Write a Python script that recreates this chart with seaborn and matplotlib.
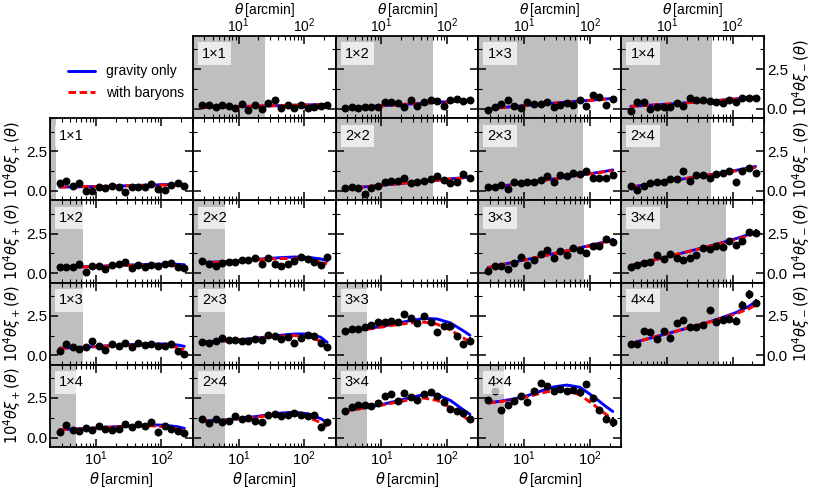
import numpy as np
import matplotlib
matplotlib.use("Agg")
import matplotlib.pyplot as plt
from matplotlib.lines import Line2D
from matplotlib.ticker import MultipleLocator, AutoMinorLocator, LogLocator, NullFormatter
import seaborn as sns

# ── data ─────────────────────────────────────────────────
theta = [2.80, 3.53, 4.44, 5.59, 7.04, 8.86, 11.2, 14.0, 17.7, 22.3,
         28.0, 35.3, 44.4, 55.9, 70.4, 88.6, 112, 140, 177, 223]
theta_model = [2.80, 4.44, 7.04, 11.2, 17.7, 28.0, 44.4, 70.4, 112, 177, 223]

pairs = ["1×1", "1×2", "1×3", "1×4", "2×2", "2×3", "2×4", "3×3", "3×4", "4×4"]

# xi_plus measurements
xip_obs = {
    "1×1": [0.5, 0.6, 0.3, 0.5, 0.0, 0.02, 0.25, 0.2, 0.28, 0.25, -0.08, 0.25, 0.25, 0.25, 0.45, 0.1, 0.08, 0.4, 0.5, 0.3],
    "1×2": [0.4, 0.4, 0.4, 0.55, 0.05, 0.45, 0.45, 0.25, 0.5, 0.55, 0.7, 0.35, 0.5, 0.4, 0.5, 0.45, 0.6, 0.65, 0.4, 0.3],
    "1×3": [0.25, 0.7, 0.55, 0.4, 0.5, 0.9, 0.6, 0.35, 0.7, 0.6, 0.75, 0.55, 0.8, 0.65, 0.7, 0.6, 0.6, 0.7, 0.25, 0.1],
    "1×4": [0.35, 0.8, 0.5, 0.4, 0.6, 0.45, 0.75, 0.55, 0.5, 0.55, 0.85, 0.65, 0.85, 0.75, 1.0, 0.35, 0.75, 0.55, 0.4, 0.3],
    "2×2": [0.75, 0.6, 0.45, 0.65, 0.7, 0.7, 0.85, 0.85, 0.95, 0.6, 0.95, 0.55, 0.45, 0.55, 0.75, 1.05, 0.9, 0.7, 0.5, 1.0],
    "2×3": [0.85, 0.75, 0.9, 1.1, 0.95, 0.95, 0.9, 0.9, 1.05, 1.0, 1.3, 1.2, 1.05, 1.15, 0.8, 1.1, 1.3, 1.2, 0.75, 0.5],
    "2×4": [1.15, 0.9, 1.15, 1.0, 1.05, 1.35, 1.2, 1.25, 1.05, 1.0, 1.4, 1.5, 1.35, 1.45, 1.55, 1.45, 1.35, 1.45, 0.65, 1.0],
    "3×3": [1.52, 1.67, 1.67, 1.77, 1.92, 2.09, 2.09, 2.16, 2.09, 2.6, 2.37, 2.03, 2.48, 2.09, 1.5, 1.88, 1.84, 1.24, 0.71, 0.92],
    "3×4": [1.69, 1.95, 2.07, 2.07, 2.0, 2.18, 2.61, 2.76, 2.33, 2.8, 2.54, 2.37, 2.76, 2.86, 2.65, 2.26, 1.79, 1.65, 1.54, 1.2],
    "4×4": [2.39, 2.97, 1.75, 2.07, 2.33, 2.65, 2.22, 2.93, 3.46, 3.29, 2.93, 3.08, 2.93, 3.03, 2.86, 3.4, 2.48, 1.73, 1.15, 0.98],
}
xip_err = {
    "1×1": [0.10, 0.09, 0.08, 0.08, 0.07, 0.07, 0.07, 0.06, 0.06, 0.06, 0.06, 0.06, 0.06, 0.06, 0.06, 0.06, 0.06, 0.07, 0.07, 0.08],
    "1×2": [0.08, 0.08, 0.07, 0.07, 0.07, 0.06, 0.06, 0.06, 0.06, 0.06, 0.06, 0.06, 0.06, 0.06, 0.06, 0.07, 0.07, 0.07, 0.08, 0.09],
    "1×3": [0.08, 0.08, 0.07, 0.07, 0.07, 0.07, 0.06, 0.06, 0.06, 0.06, 0.06, 0.06, 0.06, 0.07, 0.07, 0.07, 0.08, 0.08, 0.10, 0.11],
    "1×4": [0.09, 0.08, 0.08, 0.07, 0.07, 0.07, 0.07, 0.07, 0.07, 0.07, 0.07, 0.07, 0.07, 0.07, 0.08, 0.08, 0.09, 0.10, 0.11, 0.12],
    "2×2": [0.09, 0.09, 0.08, 0.08, 0.08, 0.08, 0.08, 0.08, 0.08, 0.08, 0.08, 0.08, 0.08, 0.09, 0.09, 0.10, 0.11, 0.12, 0.13, 0.15],
    "2×3": [0.08, 0.08, 0.08, 0.08, 0.08, 0.08, 0.08, 0.08, 0.08, 0.08, 0.08, 0.08, 0.09, 0.09, 0.10, 0.11, 0.12, 0.13, 0.15, 0.17],
    "2×4": [0.09, 0.09, 0.09, 0.08, 0.08, 0.08, 0.08, 0.08, 0.08, 0.08, 0.08, 0.09, 0.09, 0.10, 0.11, 0.12, 0.13, 0.15, 0.17, 0.19],
    "3×3": [0.10, 0.10, 0.10, 0.10, 0.10, 0.10, 0.10, 0.10, 0.10, 0.11, 0.11, 0.12, 0.12, 0.13, 0.14, 0.15, 0.17, 0.19, 0.21, 0.24],
    "3×4": [0.10, 0.10, 0.10, 0.10, 0.10, 0.10, 0.10, 0.10, 0.10, 0.11, 0.11, 0.12, 0.12, 0.13, 0.14, 0.15, 0.17, 0.19, 0.21, 0.24],
    "4×4": [0.15, 0.15, 0.14, 0.13, 0.12, 0.12, 0.13, 0.13, 0.14, 0.14, 0.14, 0.15, 0.15, 0.16, 0.17, 0.19, 0.21, 0.23, 0.26, 0.29],
}
xip_dmo = {
    "1×1": [0.25, 0.25, 0.27, 0.28, 0.30, 0.32, 0.35, 0.37, 0.40, 0.39, 0.37],
    "1×2": [0.35, 0.37, 0.40, 0.43, 0.47, 0.50, 0.53, 0.56, 0.57, 0.56, 0.53],
    "1×3": [0.45, 0.48, 0.52, 0.57, 0.62, 0.66, 0.70, 0.72, 0.72, 0.65, 0.57],
    "1×4": [0.50, 0.53, 0.57, 0.62, 0.67, 0.72, 0.77, 0.80, 0.78, 0.68, 0.58],
    "2×2": [0.68, 0.70, 0.74, 0.80, 0.86, 0.93, 0.98, 1.02, 1.00, 0.90, 0.78],
    "2×3": [0.85, 0.88, 0.93, 1.00, 1.08, 1.17, 1.27, 1.35, 1.35, 1.15, 0.82],
    "2×4": [1.05, 1.08, 1.13, 1.22, 1.32, 1.43, 1.55, 1.60, 1.50, 1.20, 0.95],
    "3×3": [1.50, 1.60, 1.72, 1.87, 2.03, 2.20, 2.33, 2.30, 2.05, 1.55, 1.27],
    "3×4": [1.70, 1.82, 1.96, 2.13, 2.32, 2.53, 2.72, 2.70, 2.35, 1.75, 1.47],
    "4×4": [2.20, 2.30, 2.45, 2.65, 2.93, 3.20, 3.32, 3.18, 2.60, 1.95, 1.65],
}
xip_bar = {
    "1×1": [0.25, 0.25, 0.27, 0.28, 0.30, 0.32, 0.34, 0.36, 0.37, 0.34, 0.31],
    "1×2": [0.34, 0.36, 0.39, 0.42, 0.45, 0.48, 0.50, 0.52, 0.50, 0.45, 0.42],
    "1×3": [0.44, 0.47, 0.51, 0.55, 0.60, 0.63, 0.66, 0.66, 0.62, 0.50, 0.38],
    "1×4": [0.49, 0.52, 0.56, 0.61, 0.65, 0.70, 0.73, 0.74, 0.68, 0.55, 0.42],
    "2×2": [0.67, 0.69, 0.72, 0.78, 0.83, 0.88, 0.92, 0.92, 0.85, 0.70, 0.60],
    "2×3": [0.84, 0.86, 0.91, 0.97, 1.05, 1.13, 1.20, 1.25, 1.18, 0.90, 0.50],
    "2×4": [1.04, 1.06, 1.11, 1.19, 1.28, 1.38, 1.47, 1.48, 1.30, 0.95, 0.70],
    "3×3": [1.49, 1.58, 1.69, 1.82, 1.95, 2.05, 2.10, 1.97, 1.60, 1.10, 0.85],
    "3×4": [1.69, 1.80, 1.93, 2.08, 2.25, 2.40, 2.50, 2.35, 1.90, 1.35, 1.05],
    "4×4": [2.18, 2.27, 2.40, 2.58, 2.80, 2.97, 2.95, 2.70, 2.10, 1.45, 1.15],
}

# xi_minus measurements
xim_obs = {
    "1×1": [0.26, 0.26, 0.11, 0.26, 0.19, 0.04, 0.30, -0.06, 0.21, 0.0, 0.36, 0.53, 0.04, 0.26, 0.04, 0.21, 0.04, 0.09, 0.19, 0.26],
    "1×2": [0.04, 0.11, 0.04, 0.09, 0.11, 0.11, 0.41, 0.41, 0.33, 0.11, 0.54, 0.20, 0.41, 0.54, 0.48, 0.20, 0.54, 0.59, 0.48, 0.52],
    "1×3": [-0.07, 0.09, 0.30, 0.54, 0.20, 0.04, 0.41, 0.30, 0.30, 0.41, 0.11, 0.26, 0.37, 0.26, 0.54, 0.20, 0.85, 0.76, 0.26, 0.63],
    "1×4": [-0.13, 0.41, 0.41, -0.02, 0.09, 0.11, 0.11, 0.37, 0.20, 0.70, 0.54, 0.52, 0.48, 0.41, 0.37, 0.52, 0.43, 0.65, 0.65, 0.70],
    "2×2": [0.17, 0.23, 0.17, -0.19, 0.17, 0.32, 0.59, 0.64, 0.64, 0.80, 0.53, 0.55, 0.64, 0.74, 0.97, 0.70, 0.53, 0.59, 1.06, 0.80],
    "2×3": [0.23, 0.23, 0.38, 0.13, 0.59, 0.53, 0.59, 0.59, 0.66, 0.97, 0.59, 1.02, 0.95, 1.12, 1.08, 1.23, 0.80, 0.80, 0.80, 1.02],
    "2×4": [0.34, 0.06, 0.34, 0.49, 0.55, 0.55, 0.76, 0.76, 1.23, 0.64, 1.02, 1.02, 0.80, 1.06, 1.12, 1.23, 0.55, 1.29, 1.45, 1.15],
    "3×3": [0.13, 0.46, 0.42, 0.24, 0.61, 1.05, 0.53, 0.86, 1.18, 1.45, 0.96, 1.38, 1.16, 1.62, 1.45, 1.29, 1.73, 1.71, 2.15, 2.00],
    "3×4": [0.39, 0.53, 0.64, 0.68, 1.16, 0.90, 1.23, 0.96, 0.86, 0.96, 1.12, 1.62, 1.51, 1.71, 1.67, 2.06, 1.78, 2.04, 2.59, 2.54],
    "4×4": [0.70, 0.70, 1.56, 1.45, 1.03, 1.52, 1.07, 2.05, 2.26, 1.77, 1.77, 1.92, 2.84, 2.09, 2.26, 2.31, 2.20, 3.20, 3.85, 3.33],
}
xim_err = {
    "1×1": [0.06, 0.06, 0.06, 0.06, 0.06, 0.06, 0.06, 0.06, 0.06, 0.06, 0.06, 0.06, 0.06, 0.06, 0.06, 0.06, 0.06, 0.06, 0.07, 0.07],
    "1×2": [0.06, 0.06, 0.06, 0.06, 0.06, 0.06, 0.06, 0.06, 0.06, 0.06, 0.06, 0.06, 0.06, 0.06, 0.06, 0.06, 0.07, 0.07, 0.07, 0.08],
    "1×3": [0.07, 0.07, 0.07, 0.07, 0.07, 0.07, 0.07, 0.07, 0.07, 0.07, 0.07, 0.07, 0.07, 0.07, 0.07, 0.08, 0.08, 0.09, 0.10, 0.10],
    "1×4": [0.07, 0.07, 0.07, 0.07, 0.07, 0.07, 0.07, 0.07, 0.07, 0.07, 0.07, 0.07, 0.07, 0.07, 0.08, 0.08, 0.09, 0.10, 0.11, 0.11],
    "2×2": [0.08, 0.08, 0.08, 0.08, 0.08, 0.08, 0.08, 0.08, 0.08, 0.08, 0.08, 0.08, 0.08, 0.08, 0.09, 0.10, 0.11, 0.12, 0.13, 0.14],
    "2×3": [0.08, 0.08, 0.08, 0.08, 0.08, 0.08, 0.08, 0.08, 0.08, 0.08, 0.08, 0.08, 0.09, 0.09, 0.10, 0.11, 0.12, 0.14, 0.15, 0.17],
    "2×4": [0.09, 0.09, 0.09, 0.09, 0.09, 0.09, 0.09, 0.09, 0.09, 0.09, 0.09, 0.09, 0.10, 0.10, 0.11, 0.12, 0.14, 0.16, 0.18, 0.20],
    "3×3": [0.10, 0.10, 0.10, 0.10, 0.10, 0.10, 0.10, 0.10, 0.11, 0.11, 0.11, 0.12, 0.12, 0.13, 0.14, 0.15, 0.16, 0.18, 0.20, 0.22],
    "3×4": [0.10, 0.10, 0.10, 0.10, 0.10, 0.10, 0.10, 0.10, 0.11, 0.11, 0.11, 0.12, 0.12, 0.13, 0.14, 0.15, 0.16, 0.18, 0.20, 0.22],
    "4×4": [0.15, 0.15, 0.15, 0.15, 0.15, 0.15, 0.15, 0.16, 0.17, 0.17, 0.17, 0.17, 0.18, 0.20, 0.20, 0.22, 0.24, 0.26, 0.30, 0.25],
}
xim_dmo = {
    "1×1": [0.08, 0.10, 0.12, 0.14, 0.16, 0.18, 0.20, 0.22, 0.24, 0.26, 0.27],
    "1×2": [0.05, 0.10, 0.15, 0.20, 0.25, 0.30, 0.35, 0.40, 0.45, 0.50, 0.53],
    "1×3": [0.00, 0.07, 0.14, 0.21, 0.28, 0.35, 0.42, 0.49, 0.55, 0.62, 0.65],
    "1×4": [0.15, 0.20, 0.25, 0.30, 0.36, 0.42, 0.48, 0.55, 0.62, 0.70, 0.75],
    "2×2": [0.15, 0.22, 0.30, 0.38, 0.45, 0.53, 0.60, 0.68, 0.76, 0.84, 0.90],
    "2×3": [0.20, 0.30, 0.42, 0.53, 0.65, 0.76, 0.88, 1.00, 1.12, 1.25, 1.33],
    "2×4": [0.25, 0.37, 0.50, 0.63, 0.76, 0.89, 1.02, 1.16, 1.30, 1.45, 1.55],
    "3×3": [0.35, 0.52, 0.70, 0.87, 1.05, 1.23, 1.41, 1.60, 1.80, 2.00, 2.12],
    "3×4": [0.48, 0.68, 0.88, 1.08, 1.29, 1.50, 1.71, 1.94, 2.18, 2.45, 2.62],
    "4×4": [0.75, 0.98, 1.20, 1.42, 1.65, 1.88, 2.12, 2.40, 2.70, 3.10, 3.40],
}
xim_bar = {
    "1×1": [0.08, 0.10, 0.12, 0.14, 0.16, 0.18, 0.20, 0.22, 0.23, 0.25, 0.26],
    "1×2": [0.05, 0.10, 0.15, 0.20, 0.25, 0.30, 0.35, 0.40, 0.44, 0.48, 0.51],
    "1×3": [0.00, 0.07, 0.14, 0.21, 0.28, 0.35, 0.42, 0.48, 0.54, 0.60, 0.62],
    "1×4": [0.15, 0.20, 0.25, 0.30, 0.36, 0.42, 0.48, 0.54, 0.61, 0.68, 0.72],
    "2×2": [0.15, 0.22, 0.30, 0.38, 0.45, 0.53, 0.60, 0.67, 0.75, 0.82, 0.87],
    "2×3": [0.20, 0.30, 0.42, 0.53, 0.65, 0.76, 0.87, 0.99, 1.10, 1.22, 1.28],
    "2×4": [0.25, 0.37, 0.50, 0.63, 0.76, 0.89, 1.01, 1.14, 1.27, 1.41, 1.49],
    "3×3": [0.35, 0.52, 0.70, 0.87, 1.05, 1.22, 1.40, 1.58, 1.76, 1.95, 2.05],
    "3×4": [0.48, 0.68, 0.88, 1.08, 1.29, 1.49, 1.70, 1.91, 2.13, 2.37, 2.52],
    "4×4": [0.75, 0.98, 1.20, 1.42, 1.65, 1.87, 2.10, 2.36, 2.63, 2.95, 3.18],
}

# scale cuts (shaded region ends, arcmin)
xip_cut = {"1×1": 2.5, "1×2": 6.4, "1×3": 6.4, "1×4": 5.0, "2×2": 6.2,
           "2×3": 6.2, "2×4": 6.2, "3×3": 6.0, "3×4": 6.0, "4×4": 4.9}
xim_cut = {"1×1": 25, "1×2": 61, "1×3": 65, "1×4": 49, "2×2": 61,
           "2×3": 78, "2×4": 46, "3×3": 81, "3×4": 78, "4×4": 61}

# ── style ────────────────────────────────────────────────
sns.set_theme(style="ticks")
plt.rcParams["font.family"] = ["Liberation Sans", "DejaVu Sans"]
plt.rcParams["mathtext.fontset"] = "dejavusans"
plt.rcParams["text.color"] = "black"
plt.rcParams["axes.labelcolor"] = "black"

XLIM = (2.0, 300.0)
YLIM = (-0.6, 4.6)
W, H = 814, 488
LEFT, TOP, PW, PH = 50, 36, 142.8, 82.2
LW = 2.1
DASH = (0, (2.6, 1.2))
FS = 10.5   # labels
TS = 11     # y tick labels
XTS = 10.5  # x tick labels

fig = plt.figure(figsize=(W / 100, H / 100), dpi=100)


def make_ax(row, col):
    x0 = LEFT + col * PW
    y0 = TOP + row * PH
    ax = fig.add_axes([x0 / W, 1 - (y0 + PH) / H, PW / W, PH / H])
    ax.set_xscale("log")
    ax.set_xlim(*XLIM)
    ax.set_ylim(*YLIM)
    ax.xaxis.set_major_locator(LogLocator(base=10, numticks=10))
    ax.xaxis.set_minor_locator(LogLocator(base=10, subs=np.arange(2, 10), numticks=20))
    ax.xaxis.set_minor_formatter(NullFormatter())
    ax.yaxis.set_major_locator(MultipleLocator(2.5))
    ax.yaxis.set_minor_locator(AutoMinorLocator(2))
    ax.tick_params(which="both", direction="in", top=True, right=True,
                   bottom=True, left=True, labelbottom=False, labelleft=False,
                   labeltop=False, labelright=False, colors="black",
                   labelsize=TS, pad=2)
    ax.tick_params(axis="x", which="both", pad=1.5, labelsize=XTS)
    ax.tick_params(which="major", length=6, width=1.1)
    ax.tick_params(which="minor", length=3, width=0.8)
    for s in ax.spines.values():
        s.set_linewidth(1.3)
        s.set_color("black")
    return ax


def draw(ax, pair, obs, err, dmo, bar, cut):
    ax.axvspan(XLIM[0], cut, color="0.75", lw=0, zorder=0)
    sns.lineplot(x=theta_model, y=dmo, ax=ax, color="blue", lw=LW,
                 estimator=None, zorder=2)
    sns.lineplot(x=theta_model, y=bar, ax=ax, color="red", lw=LW,
                 linestyle=DASH, estimator=None, zorder=3)
    ax.errorbar(theta, obs, yerr=err, fmt="o", color="black", ms=4.7,
                elinewidth=1.4, capsize=0, zorder=4)
    ax.text(0.065, 0.87, pair, transform=ax.transAxes, fontsize=FS,
            va="top", ha="left", zorder=6,
            bbox=dict(facecolor="white", alpha=0.7, edgecolor="none",
                      boxstyle="square,pad=0.3"))
    ax.set_xlabel("")
    ax.set_ylabel("")


xlab = r"$\theta\,$[arcmin]"
ylab_p = r"$10^4\theta\xi_+(\theta)$"
ylab_m = r"$10^4\theta\xi_-(\theta)$"

for p in pairs:
    i, j = int(p[0]), int(p[2])
    # xi_plus: lower-left triangle, row = j, col = i - 1
    ax = make_ax(j, i - 1)
    draw(ax, p, xip_obs[p], xip_err[p], xip_dmo[p], xip_bar[p], xip_cut[p])
    if i == 1:
        ax.tick_params(labelleft=True)
        ax.set_ylabel(ylab_p, fontsize=FS, labelpad=2, visible=True)
    if j == 4:
        ax.tick_params(labelbottom=True)
        ax.set_xlabel(xlab, fontsize=FS, labelpad=1.5, visible=True)
    # xi_minus: upper-right triangle, row = i - 1, col = j
    ax = make_ax(i - 1, j)
    draw(ax, p, xim_obs[p], xim_err[p], xim_dmo[p], xim_bar[p], xim_cut[p])
    if j == 4:
        ax.tick_params(labelright=True)
        ax.yaxis.set_label_position("right")
        ax.set_ylabel(ylab_m, fontsize=FS, labelpad=1.5, visible=True)
    if i == 1:
        # top row: slightly tighter so the label stays inside the figure
        ax.tick_params(axis="x", labeltop=True, pad=0.5, labelsize=10)
        ax.xaxis.set_label_position("top")
        ax.set_xlabel(xlab, fontsize=10, labelpad=2, visible=True)

# empty diagonal panels
for k in range(1, 4):
    make_ax(k, k)

handles = [Line2D([], [], color="blue", lw=LW),
           Line2D([], [], color="red", lw=LW, linestyle=DASH)]
fig.legend(handles, ["gravity only", "with baryons"], loc="upper left",
           bbox_to_anchor=(55 / W, 1 - 52 / H), frameon=False, fontsize=10,
           handlelength=2.0, handletextpad=0.8, labelspacing=0.55)

fig.savefig("out.png", dpi=100)
